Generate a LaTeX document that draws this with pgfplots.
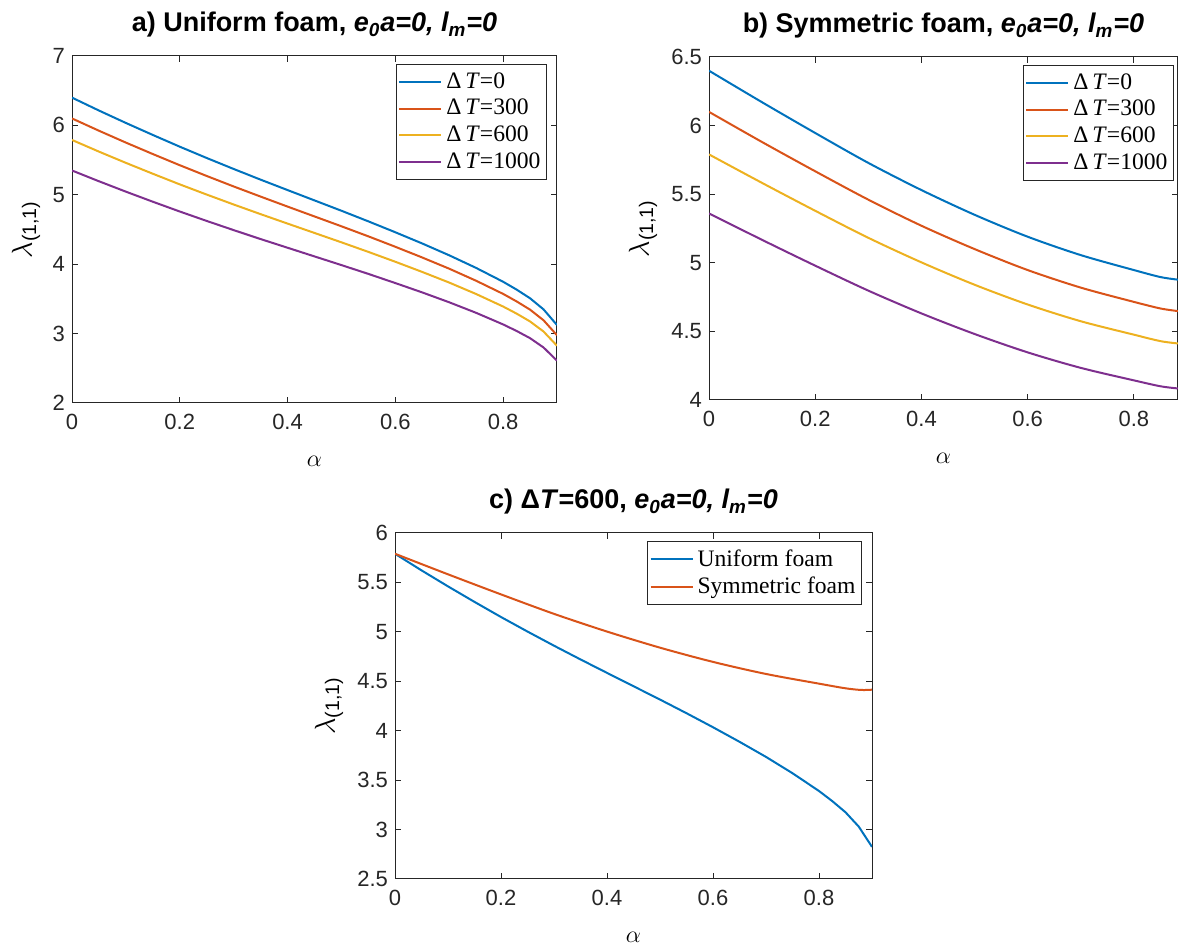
\documentclass[border=0pt]{standalone}
\usepackage{fontspec}
\setmainfont{Liberation Sans}
\newfontfamily\tnr{Liberation Serif}
\usepackage{pgfplots}
\pgfplotsset{compat=1.18}

\definecolor{mblue}{rgb}{0,0.447,0.741}
\definecolor{morange}{rgb}{0.850,0.325,0.098}
\definecolor{myellow}{rgb}{0.929,0.694,0.125}
\definecolor{mpurple}{rgb}{0.494,0.184,0.556}
\definecolor{axgray}{rgb}{0.15,0.15,0.15}

\newcommand{\dT}[1]{{\tnr Δ\,\textit{T}=#1}}
\newcommand{\lam}{$\lambda$\textsubscript{(1,1)}}

\pgfplotsset{
  mat/.style={
    scale only axis,
    axis line style={axgray, line width=0.5pt},
    every tick/.style={axgray, line width=0.5pt},
    tick align=inside,
    major tick length=3pt,
    tick label style={font=\fontsize{11}{13}\selectfont, text=axgray},
    x tick label style={yshift=-2pt},
    /pgf/number format/assume math mode=true,
    xtick={0,0.2,0.4,0.6,0.8},
    xmin=0,
    title style={font=\bfseries\fontsize{13.5}{15}\selectfont, at={(axis description cs:0.5,1)}, anchor=base, yshift=6pt},
    xlabel style={at={(axis description cs:0.5,0)}, anchor=center, yshift=-29pt, font=\fontsize{13}{15}\selectfont},
    ylabel style={at={(axis description cs:0,0.5)}, anchor=center, font=\fontsize{14}{16}\selectfont},
    legend style={at={(axis description cs:1,1)}, anchor=north east, xshift=-5pt, yshift=-4pt,
      draw=axgray, line width=0.5pt, font=\fontsize{11.8}{14}\selectfont,
      inner xsep=1pt, inner ysep=2pt, row sep=0pt, cells={anchor=west}},
    legend image code/.code={\draw[#1] (0pt,0pt) -- (21pt,0pt);},
    every axis plot/.append style={line width=1pt, line join=round},
  }
}

\begin{document}
\begin{tikzpicture}
\path[use as bounding box] (0,0) rectangle (589.5pt,473.5pt);

% a) uniform foam
\begin{axis}[mat, at={(36pt,272pt)}, anchor=south west,
  width=242.5pt, height=173.5pt,
  xmax=0.9, ymin=2, ymax=7, ytick={2,3,4,5,6,7},
  title={a) Uniform foam, \textit{e\textsubscript{0}a=0, l\textsubscript{m}=0}},
  xlabel={$\alpha$}, ylabel={\lam}, ylabel style={yshift=23pt}]
\addplot[mblue] coordinates {(0,6.400) (0.05,6.214) (0.1,6.035) (0.15,5.862) (0.2,5.693) (0.25,5.530) (0.3,5.372) (0.35,5.218) (0.4,5.068) (0.45,4.919) (0.5,4.770) (0.55,4.617) (0.6,4.460) (0.65,4.298) (0.7,4.128) (0.75,3.946) (0.8,3.747) (0.825,3.634) (0.85,3.509) (0.875,3.349) (0.9,3.123)};
\addlegendentry{\dT{0}}
\addplot[morange] coordinates {(0,6.100) (0.05,5.923) (0.1,5.752) (0.15,5.587) (0.2,5.426) (0.25,5.271) (0.3,5.120) (0.35,4.974) (0.4,4.830) (0.45,4.688) (0.5,4.546) (0.55,4.401) (0.6,4.251) (0.65,4.096) (0.7,3.935) (0.75,3.761) (0.8,3.572) (0.825,3.464) (0.85,3.345) (0.875,3.192) (0.9,2.976)};
\addlegendentry{\dT{300}}
\addplot[myellow] coordinates {(0,5.790) (0.05,5.622) (0.1,5.460) (0.15,5.303) (0.2,5.150) (0.25,5.003) (0.3,4.860) (0.35,4.721) (0.4,4.585) (0.45,4.450) (0.5,4.315) (0.55,4.177) (0.6,4.035) (0.65,3.888) (0.7,3.735) (0.75,3.570) (0.8,3.390) (0.825,3.288) (0.85,3.175) (0.875,3.030) (0.9,2.825)};
\addlegendentry{\dT{600}}
\addplot[mpurple] coordinates {(0,5.350) (0.05,5.195) (0.1,5.045) (0.15,4.900) (0.2,4.759) (0.25,4.623) (0.3,4.491) (0.35,4.362) (0.4,4.237) (0.45,4.112) (0.5,3.987) (0.55,3.860) (0.6,3.728) (0.65,3.593) (0.7,3.451) (0.75,3.299) (0.8,3.132) (0.825,3.038) (0.85,2.934) (0.875,2.800) (0.9,2.610)};
\addlegendentry{\dT{1000}}
\end{axis}

% b) symmetric foam
\begin{axis}[mat, at={(354.5pt,273.5pt)}, anchor=south west,
  width=234.5pt, height=171.5pt,
  xmax=0.883, ymin=4, ymax=6.5, ytick={4,4.5,5,5.5,6,6.5},
  title={b) Symmetric foam, \textit{e\textsubscript{0}a=0, l\textsubscript{m}=0}},
  xlabel={$\alpha$}, ylabel={\lam}, ylabel style={yshift=33pt},
  legend style={xshift=3pt}]
\addplot[mblue, smooth] coordinates {(0,6.40) (0.1,6.17) (0.2,5.946) (0.3,5.728) (0.4,5.53) (0.5,5.35) (0.6,5.19) (0.7,5.056) (0.8,4.947) (0.85,4.896) (0.883,4.877)};
\addlegendentry{\dT{0}}
\addplot[morange, smooth] coordinates {(0,6.10) (0.1,5.88) (0.2,5.667) (0.3,5.46) (0.4,5.27) (0.5,5.10) (0.6,4.947) (0.7,4.819) (0.8,4.715) (0.85,4.667) (0.883,4.648)};
\addlegendentry{\dT{300}}
\addplot[myellow, smooth] coordinates {(0,5.79) (0.1,5.582) (0.2,5.379) (0.3,5.182) (0.4,5.003) (0.5,4.84) (0.6,4.696) (0.7,4.574) (0.8,4.476) (0.85,4.429) (0.883,4.412)};
\addlegendentry{\dT{600}}
\addplot[mpurple, smooth] coordinates {(0,5.36) (0.1,5.167) (0.2,4.979) (0.3,4.797) (0.4,4.631) (0.5,4.481) (0.6,4.347) (0.7,4.234) (0.8,4.143) (0.85,4.10) (0.883,4.084)};
\addlegendentry{\dT{1000}}
\end{axis}

% c) comparison at dT = 600
\begin{axis}[mat, at={(197.5pt,34pt)}, anchor=south west,
  width=238.5pt, height=173pt,
  xmax=0.9, ymin=2.5, ymax=6, ytick={2.5,3,3.5,4,4.5,5,5.5,6},
  title={c) Δ\textit{T}=600, \textit{e\textsubscript{0}a=0, l\textsubscript{m}=0}},
  xlabel={$\alpha$}, ylabel={\lam}, ylabel style={yshift=33pt}]
\addplot[mblue] coordinates {(0,5.790) (0.05,5.622) (0.1,5.460) (0.15,5.303) (0.2,5.150) (0.25,5.003) (0.3,4.860) (0.35,4.721) (0.4,4.585) (0.45,4.450) (0.5,4.315) (0.55,4.177) (0.6,4.035) (0.65,3.888) (0.7,3.735) (0.75,3.570) (0.8,3.390) (0.825,3.288) (0.85,3.175) (0.875,3.030) (0.9,2.825)};
\addlegendentry{\tnr Uniform foam}
\addplot[morange, smooth] coordinates {(0,5.79) (0.1,5.582) (0.2,5.379) (0.3,5.182) (0.4,5.003) (0.5,4.84) (0.6,4.696) (0.7,4.574) (0.8,4.476) (0.85,4.429) (0.88,4.412) (0.9,4.415)};
\addlegendentry{\tnr Symmetric foam}
\end{axis}
\end{tikzpicture}
\end{document}
